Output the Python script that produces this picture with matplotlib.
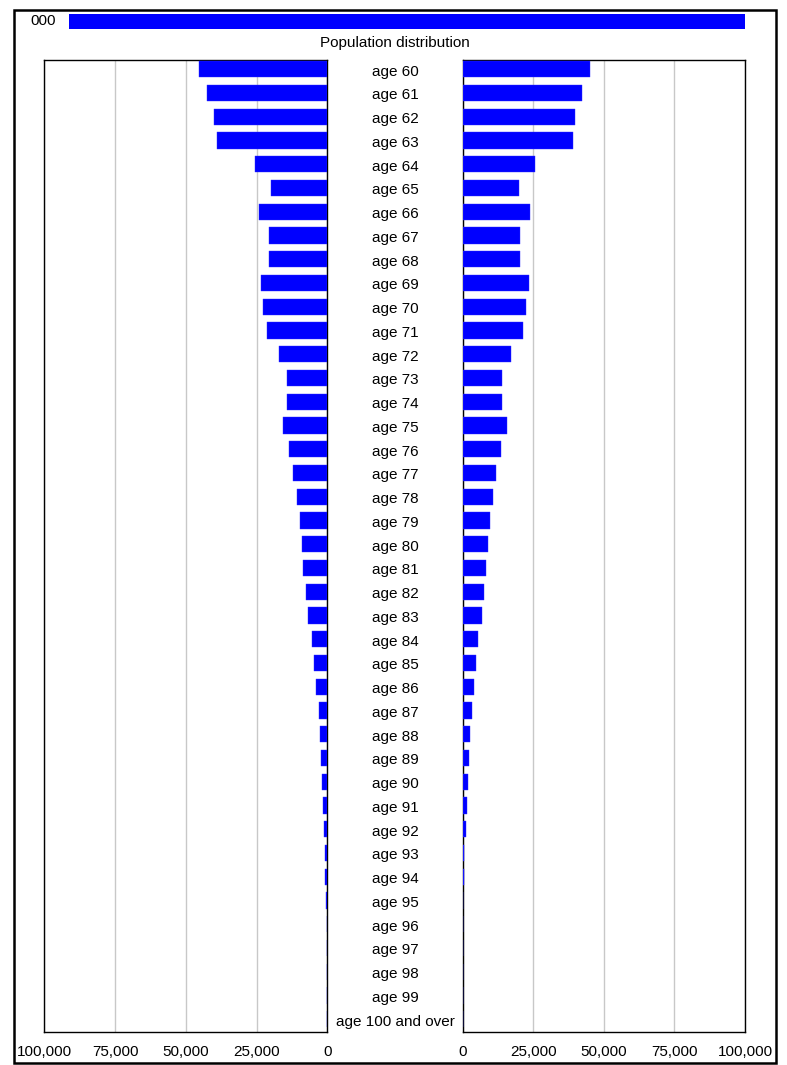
import matplotlib
matplotlib.use("Agg")
import matplotlib.pyplot as plt
from matplotlib.patches import Rectangle
from matplotlib.transforms import blended_transform_factory

plt.rcParams['font.family'] = ['Liberation Sans', 'DejaVu Sans']

# ---- data ----
age_labels = [f"age {a}" for a in range(60, 100)] + ["age 100 and over"]
left_values = [45200, 42600, 40100, 39100, 25700, 20000, 24100, 20500, 20500, 23500,
               22800, 21400, 17100, 14100, 14100, 15800, 13700, 12000, 10600, 9800,
               8900, 8500, 7600, 6800, 5400, 4600, 3900, 3100, 2700, 2200,
               1900, 1400, 1100, 700, 700, 350, 250, 200, 50, 30, 20]
right_values = [45000, 42400, 39800, 38900, 25700, 20000, 23900, 20400, 20400, 23400,
                22600, 21300, 17000, 14000, 14000, 15800, 13700, 11900, 10600, 9700,
                8800, 8400, 7500, 6700, 5400, 4600, 4100, 3200, 2700, 2400,
                1900, 1500, 1100, 600, 600, 250, 200, 150, 50, 30, 20]
tick_values = [0, 25000, 50000, 75000, 100000]
tick_labels = ["0", "25,000", "50,000", "75,000", "100,000"]
slider_label = "000"
slider_value = [1.0]
title = "Population distribution"

W, H = 787, 1065
fig = plt.figure(figsize=(W / 100, H / 100), dpi=100)

def fx(px):
    return px / W

def fy(py):
    return 1 - py / H

BLUE = "#0000FF"
GRID = "#c8c8c8"
FS = 11

# outer border
fig.patches.append(Rectangle((fx(14), fy(1063)), fx(776) - fx(14), fy(10) - fy(1063),
                             transform=fig.transFigure, fill=False, edgecolor="black",
                             linewidth=1.8, zorder=10))

# top slider bar
ax_s = fig.add_axes([fx(69.3), fy(29.3), fx(745.3) - fx(69.3), fy(14) - fy(29.3)])
ax_s.barh([0], slider_value, height=1.0, left=0, color=BLUE)
ax_s.set_xlim(0, 1)
ax_s.set_ylim(-0.5, 0.5)
ax_s.axis("off")
fig.text(fx(43), fy(21), slider_label, ha="center", va="center", fontsize=FS)

# title
fig.text(fx(395), fy(43), title, ha="center", va="center", fontsize=FS)

# panels
top, bottom = 60, 1032
row_px = 23.75
y0 = -9.2 / row_px
y1 = 40 + 12.8 / row_px
n = len(age_labels)
rows = list(range(n))

ax_l = fig.add_axes([fx(44.3), fy(bottom), fx(327.3) - fx(44.3), fy(top) - fy(bottom)])
ax_r = fig.add_axes([fx(462.7), fy(bottom), fx(745) - fx(462.7), fy(top) - fy(bottom)])

for ax, vals in ((ax_l, left_values), (ax_r, right_values)):
    ax.barh(rows, vals, height=0.68, color=BLUE, edgecolor="#3030ff", linewidth=0.3, zorder=3)
    ax.set_xlim(0, 100000)
    ax.set_ylim(y1, y0)
    ax.set_xticks(tick_values)
    ax.set_xticklabels(tick_labels, fontsize=FS)
    ax.set_yticks([])
    ax.tick_params(axis="x", length=0, pad=9)
    ax.grid(axis="x", color=GRID, linewidth=1.0, zorder=0)
    for s in ax.spines.values():
        s.set_color("black")
        s.set_linewidth(1.0)

ax_l.invert_xaxis()

# center labels
trans = blended_transform_factory(fig.transFigure, ax_l.transData)
for i, lab in enumerate(age_labels):
    fig.text(fx(395), i + 0.1, lab, transform=trans,
             ha="center", va="center", fontsize=FS)

fig.savefig("out.png", dpi=100)
